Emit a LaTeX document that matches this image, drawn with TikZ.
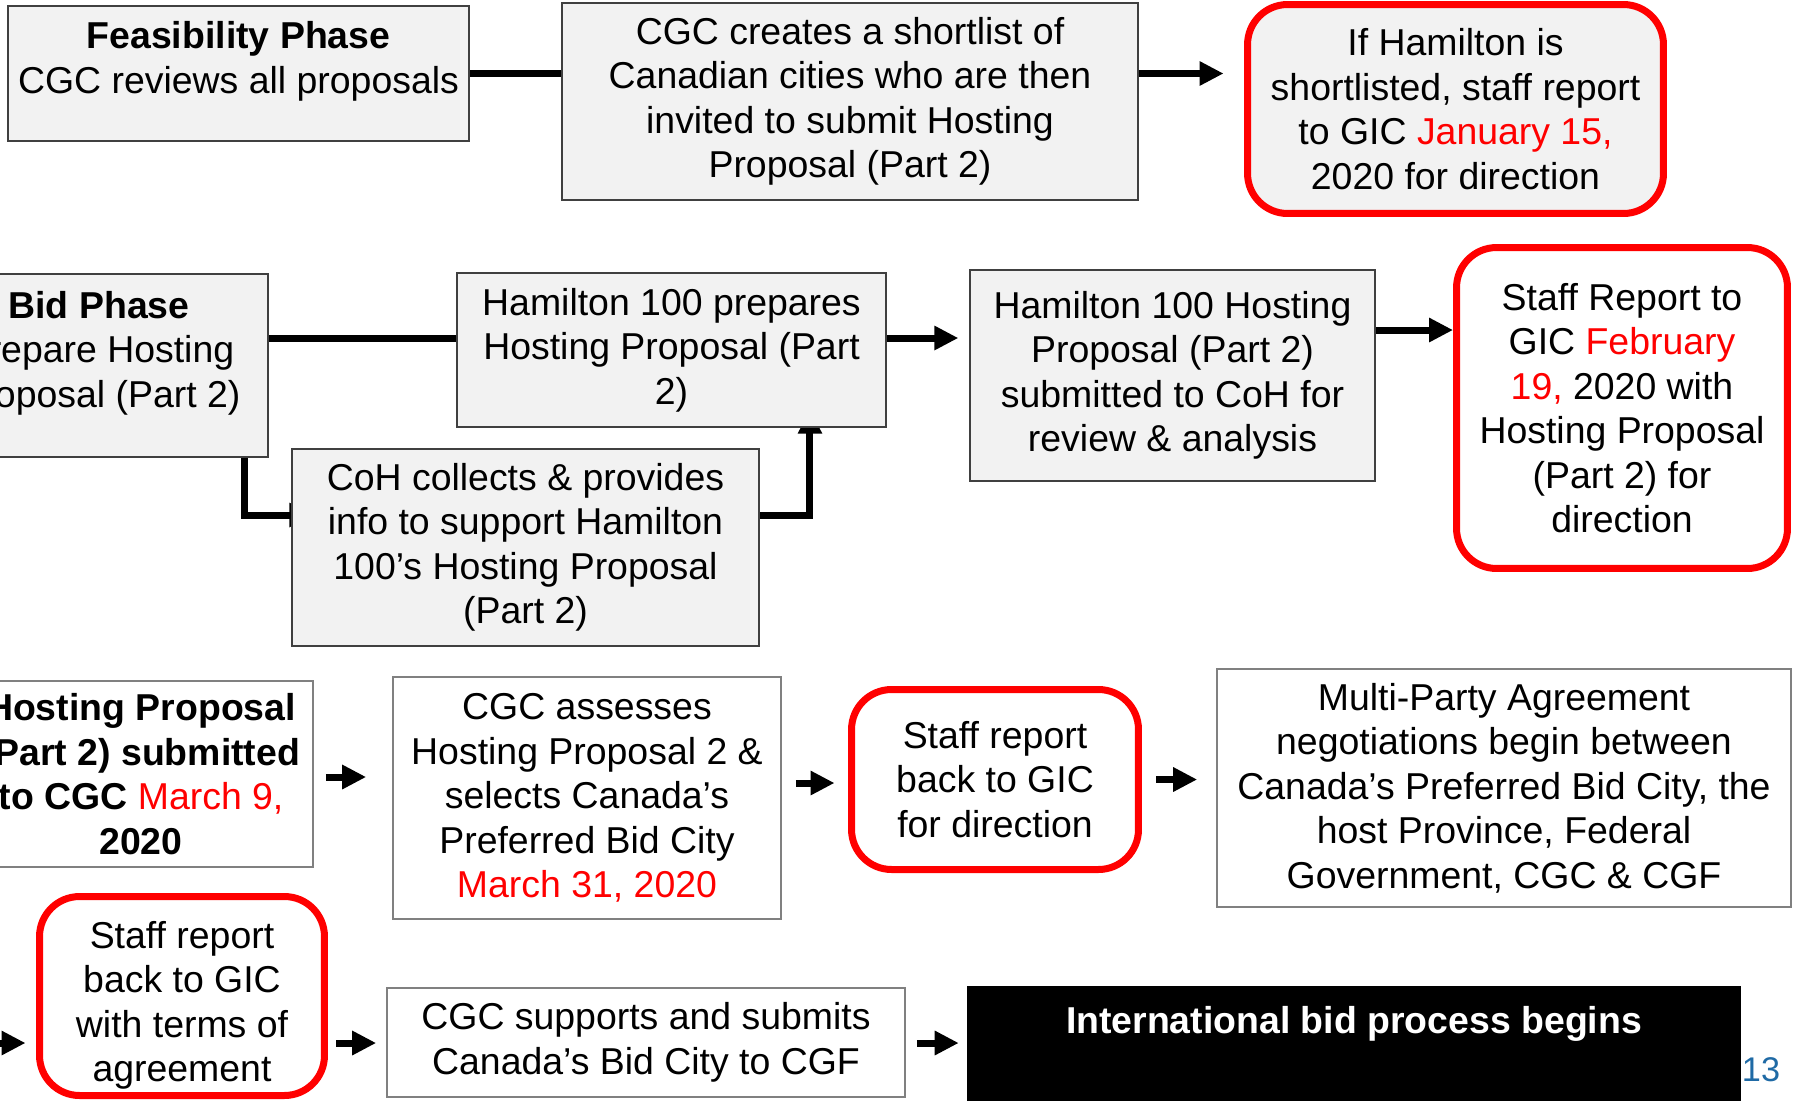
\documentclass[tikz,border=0pt]{standalone}
\usepackage{fontspec}
\setmainfont{Liberation Sans}
\usetikzlibrary{arrows.meta, calc, backgrounds}
\definecolor{slideblue}{RGB}{31,106,165}
\newcommand{\liftup}[2]{\raisebox{#1}[\height][\depth]{\begin{tabular}{@{}c@{}}#2\end{tabular}}}

\begin{document}
\begin{tikzpicture}[x=0.02cm, y=-0.02cm, >={Triangle[length=0.48cm, width=0.46cm]},
  every node/.style={font=\fontsize{21.3pt}{25.3pt}\selectfont, inner sep=0pt},
  graybox/.style={draw=black!75, line width=0.8pt, fill=black!5, align=center},
  whitebox/.style={draw=black!50, line width=1pt, fill=white, align=center},
  redbox/.style={draw=red, line width=0.14cm, rounded corners=0.8cm, fill=white, align=center},
  flow/.style={line width=0.14cm}]
  \useasboundingbox (0,0) rectangle (1798,1100);
  \clip (0,0) rectangle (1798,1100);
  \node[graybox, minimum width=9.22cm, minimum height=2.7cm] (feas) at (238.5,73.5) {\liftup{0.23cm}{\textbf{Feasibility Phase}\\CGC reviews all proposals}};
  \node[graybox, minimum width=11.52cm, minimum height=3.94cm] (short) at (850,101.5) {CGC creates a shortlist of\\Canadian cities who are then\\invited to submit Hosting\\Proposal (Part 2)};
  \node[redbox, fill=black!5, minimum width=8.32cm, minimum height=4.18cm] (jan) at (1455.5,109) {If Hamilton is\\shortlisted, staff report\\to GIC \textcolor{red}{January 15,}\\2020 for direction};
  \node[graybox, minimum width=6.76cm, minimum height=3.66cm] (bid) at (99,365.5) {\liftup{0.23cm}{\textbf{Bid Phase}\\Prepare Hosting\\Proposal (Part 2)}};
  \node[graybox, minimum width=8.58cm, minimum height=3.08cm] (prep) at (671.5,350) {Hamilton 100 prepares\\Hosting Proposal (Part\\2)};
  \node[graybox, minimum width=8.1cm, minimum height=4.22cm] (subm) at (1172.5,375.5) {Hamilton 100 Hosting\\Proposal (Part 2)\\submitted to CoH for\\review \& analysis};
  \node[redbox, minimum width=6.62cm, minimum height=6.42cm] (feb) at (1622,408) {Staff Report to\\GIC \textcolor{red}{February}\\\textcolor{red}{19,} 2020 with\\Hosting Proposal\\(Part 2) for\\direction};
  \node[graybox, minimum width=9.34cm, minimum height=3.94cm] (coh) at (525.5,547.5) {CoH collects \& provides\\info to support Hamilton\\100’s Hosting Proposal\\(Part 2)};
  \node[whitebox, minimum width=6.88cm, minimum height=3.72cm] (hp2) at (141,774) {\textbf{Hosting Proposal}\\\textbf{(Part 2) submitted}\\\textbf{to CGC} \textcolor{red}{March 9,}\\\textbf{2020}};
  \node[whitebox, minimum width=7.76cm, minimum height=4.84cm] (assess) at (587,798) {CGC assesses\\Hosting Proposal 2 \&\\selects Canada’s\\Preferred Bid City\\\textcolor{red}{March 31, 2020}};
  \node[redbox, minimum width=5.74cm, minimum height=3.6cm] (back) at (995,779.5) {Staff report\\back to GIC\\for direction};
  \node[whitebox, minimum width=11.48cm, minimum height=4.76cm] (mpa) at (1504,788) {Multi-Party Agreement\\negotiations begin between\\Canada’s Preferred Bid City, the\\host Province, Federal\\Government, CGC \& CGF};
  \node[redbox, minimum width=5.7cm, minimum height=3.98cm] (terms) at (182,996) {\liftup{-0.2cm}{Staff report\\back to GIC\\with terms of\\agreement}};
  \node[whitebox, minimum width=10.36cm, minimum height=2.18cm] (sup) at (646,1042.5) {CGC supports and submits\\Canada’s Bid City to CGF};
  \node[fill=black, text=white, anchor=north, minimum width=15.48cm, text height=0.94cm, text depth=2.14cm] (intl) at (1354,986) {\textbf{International bid process begins}};
  \node[text=slideblue, font=\fontsize{19.5pt}{22pt}\selectfont] (pagenum) at (1761,1070) {13};
  \coordinate (row2) at (0,338);
  \coordinate (wrap) at (-20,1043);
  \begin{pgfonlayer}{background}
    \draw[flow] (feas.east) -- (feas.east -| short.west);
    \draw[flow, ->, shorten >=0.41cm] (feas.east -| short.east) -- (feas.east -| jan.west);
    \draw[flow] (bid.east |- row2) -- (prep.west |- row2);
    \draw[flow, ->, shorten >=0.22cm] (prep.east |- row2) -- (subm.west |- row2);
    \draw[flow, ->] ([yshift=0.91cm]subm.east) -- ([yshift=0.91cm]subm.east -| feb.west);
    \draw[flow, ->, shorten >=-0.44cm] ([xshift=-0.48cm]bid.south east) |- ([yshift=0.65cm]coh.west);
    \draw[flow, ->, shorten >=-0.36cm] ([yshift=0.65cm]coh.east) -| ([xshift=2.77cm]prep.south);
    \draw[flow, ->, shorten <=0.24cm, shorten >=0.52cm] ([yshift=-0.06cm]hp2.east) -- ([yshift=-0.06cm]hp2.east -| assess.west);
    \draw[flow, ->, shorten <=0.28cm, shorten >=0.27cm] ([yshift=0.3cm]assess.east) -- ([yshift=0.3cm]assess.east -| back.west);
    \draw[flow, ->, shorten <=0.29cm, shorten >=0.38cm] (back.east) -- (back.east -| mpa.west);
    \draw[flow, ->, shorten >=0.21cm] (wrap) -- (wrap -| terms.west);
    \draw[flow, ->, shorten <=0.17cm, shorten >=0.2cm] (wrap -| terms.east) -- (wrap -| sup.west);
    \draw[flow, ->, shorten <=0.22cm, shorten >=0.16cm] (wrap -| sup.east) -- (wrap -| intl.west);
  \end{pgfonlayer}
\end{tikzpicture}
\end{document}
